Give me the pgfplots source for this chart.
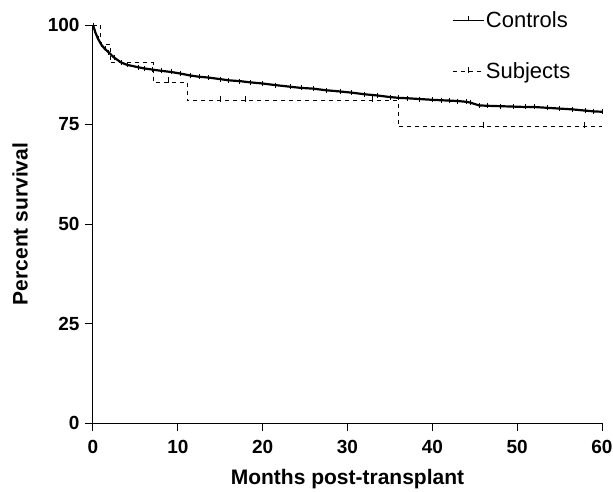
\documentclass[border=0pt]{standalone}
\usepackage{fontspec}
\setmainfont{Liberation Sans}
\usepackage{pgfplots}
\pgfplotsset{compat=1.18}

\begin{document}
\begin{tikzpicture}
\begin{axis}[
    name=ax,
    scale only axis,
    width=509pt, height=398pt,
    xmin=0, xmax=60, ymin=0, ymax=100,
    clip=false,
    axis lines=left,
    axis line style={-, line width=1pt},
    xtick={0,10,...,60}, ytick={0,25,50,75,100},
    tick align=outside,
    major tick length=8pt,
    xtick style={black, line width=1pt},
    ytick style={black, line width=1pt},
    /pgf/number format/assume math mode=true,
    ticklabel style={font=\fontsize{19}{21}\selectfont\bfseries},
    xticklabel style={yshift=-6pt},
    yticklabel style={xshift=-2pt},
    xlabel={Months post-transplant},
    ylabel={Percent survival},
    xlabel style={font=\fontsize{21}{24}\selectfont\bfseries,
        at={(axis description cs:0.5,-0.14)}, anchor=center},
    ylabel style={font=\fontsize{21}{24}\selectfont\bfseries,
        at={(axis description cs:-0.1434,0.5)}, anchor=center},
    legend style={draw=none, at={(axis description cs:0.948,1.045)}, anchor=north east,
        font=\fontsize{22}{25}\selectfont, row sep=30pt,
        /tikz/every even column/.append style={column sep=4pt}},
    legend cell align=left,
    legend image code/.code={
        \draw[#1, line width=0.9pt] (0cm,0cm) -- (1.06cm,0cm);
        \draw[solid, line width=0.6pt] (0.53cm,-0.05cm) -- (0.53cm,0.15cm);
    },
]
% Controls
\addplot[black, line width=2.2pt, mark=|, mark size=2.5pt,
    mark options={line width=0.6pt}] coordinates {
    (0,100) (0.3,98) (0.6,96.5) (1,95) (1.4,94) (1.8,93.2) (2.5,91.8)
    (3.3,90.6) (4,90) (5.3,89.4) (6,89.1) (7,88.8) (8,88.5) (9.2,88.2)
    (10.3,87.8) (11.5,87.3) (12.5,87.0) (13.6,86.8) (15,86.4) (16,86.1)
    (17.3,85.9) (18.5,85.6) (20,85.3) (21.5,84.9) (23.2,84.5) (24.5,84.2)
    (26,84) (27.5,83.6) (29.1,83.3) (30.5,83.0) (32,82.6) (33.5,82.3)
    (35,81.9) (36,81.7) (37,81.6) (38.5,81.4) (40,81.2) (41,81.1) (42,81.0)
    (43,80.9) (44,80.7) (44.5,80.5) (45.5,79.8) (46.5,79.7) (48,79.6)
    (49.5,79.5) (51,79.4) (52,79.4) (53.5,79.2) (55,79.0) (56.5,78.8)
    (58,78.5) (59,78.3) (60,78.2)
};
\addlegendentry{Controls}
% Subjects
\addplot[black, const plot, line width=0.8pt, dash pattern=on 4pt off 4pt]
    coordinates {
    (0,100) (0.9,95.2) (2.0,90.5) (7.1,85.7) (11.1,81.0) (36,74.4) (60,74.4)
};
\addlegendentry{Subjects}
% Subjects censored
\addplot[black, only marks, mark=|, mark size=3pt,
    mark options={line width=0.7pt, yshift=2pt}, forget plot] coordinates {
    (8.9,85.7) (15,81.0) (17.9,81.0) (32.9,81.0) (46,74.4) (57.9,74.4)
};
% outward tick marks
\pgfplotsinvokeforeach{0,10,20,30,40,50,60}{
    \draw[line width=1pt] (axis cs:#1,0) -- ++(0,-8pt);
}
\pgfplotsinvokeforeach{0,25,50,75,100}{
    \draw[line width=1pt] (axis cs:0,#1) -- ++(-8pt,0);
}
\end{axis}
\pgfresetboundingbox
\path[use as bounding box] ([xshift=-93pt,yshift=-68pt]ax.south west)
    rectangle ([xshift=11pt,yshift=25pt]ax.north east);
\end{tikzpicture}
\end{document}
